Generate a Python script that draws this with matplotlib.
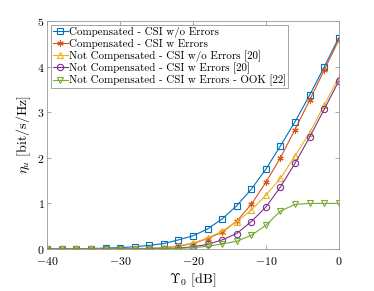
import numpy as np
import matplotlib
matplotlib.use('Agg')
import matplotlib.pyplot as plt

plt.rcParams['font.family'] = 'serif'
plt.rcParams['font.serif'] = ['cmr10']
plt.rcParams['mathtext.fontset'] = 'cm'
plt.rcParams['axes.unicode_minus'] = False
plt.rcParams['axes.formatter.use_mathtext'] = True

# SNR axis (dB)
snr = np.arange(-40, 1, 2)

comp_no_err = [0, 0, 0.005, 0.01, 0.02, 0.03, 0.05, 0.08, 0.12, 0.2, 0.29,
               0.44, 0.66, 0.95, 1.31, 1.75, 2.26, 2.79, 3.37, 3.99, 4.63]
comp_err = [0, 0, 0, 0, 0, 0.005, 0.01, 0.015, 0.03, 0.06, 0.12,
            0.23, 0.37, 0.61, 0.98, 1.46, 2.0, 2.62, 3.26, 3.92, 4.58]
notcomp_no_err = [0, 0, 0, 0, 0, 0.005, 0.005, 0.01, 0.03, 0.07, 0.13,
                  0.24, 0.39, 0.6, 0.85, 1.18, 1.55, 2.04, 2.55, 3.15, 3.76]
notcomp_err = [0, 0, 0, 0, 0, 0, 0, 0.005, 0.01, 0.02, 0.05,
               0.1, 0.2, 0.34, 0.6, 0.92, 1.36, 1.88, 2.45, 3.06, 3.68]
ook_err = [0, 0, 0, 0, 0, 0, 0, 0, 0.005, 0.01, 0.03,
           0.06, 0.11, 0.17, 0.3, 0.52, 0.83, 0.98, 1.0, 1.0, 1.0]

labels = ['Compensated - CSI w/o Errors',
          'Compensated - CSI w Errors',
          'Not Compensated - CSI w/o Errors [20]',
          'Not Compensated - CSI w Errors [20]',
          'Not Compensated - CSI w Errors - OOK [22]']
series = [comp_no_err, comp_err, notcomp_no_err, notcomp_err, ook_err]
colors = ['#0072BD', '#D95319', '#EDB120', '#7E2F8E', '#77AC30']
markers = ['s', (6, 2, 0), '^', 'o', 'v']

fig = plt.figure(figsize=(3.74, 2.91), dpi=100)
ax = fig.add_axes([0.1265, 0.1443, 0.7791, 0.7835])

for y, lab, c, m in zip(series, labels, colors, markers):
    ax.plot(snr, y, color=c, marker=m, markersize=4.5,
            markerfacecolor='none', markeredgewidth=0.8, linewidth=0.8, label=lab)

ax.set_xlim(-40, 0)
ax.set_ylim(0, 5)
ax.set_xticks([-40, -30, -20, -10, 0])
ax.set_yticks([0, 1, 2, 3, 4, 5])
ax.tick_params(direction='in', top=True, right=True, labelsize=8.5,
               length=3, width=0.5, color='#888888')
ax.tick_params(axis='x', pad=4)
ax.tick_params(axis='y', pad=2)
for s in ax.spines.values():
    s.set_color('#999999')
    s.set_linewidth(0.6)

ax.set_xlabel(r'$\Upsilon_0$ [dB]', fontsize=10)
ax.set_ylabel(r'$\eta_u$ [bit/s/Hz]', fontsize=10)
ax.xaxis.set_label_coords(0.5, -0.1)
ax.yaxis.set_label_coords(-0.05, 0.5)

leg = ax.legend(loc='upper left', fontsize=7.9, frameon=True, fancybox=False,
                handlelength=1.3, handletextpad=0.1, borderpad=0.2,
                labelspacing=0.08, borderaxespad=0.35)
leg.get_frame().set_edgecolor('#777777')
leg.get_frame().set_linewidth(0.6)

fig.savefig('out.png', dpi=100)
